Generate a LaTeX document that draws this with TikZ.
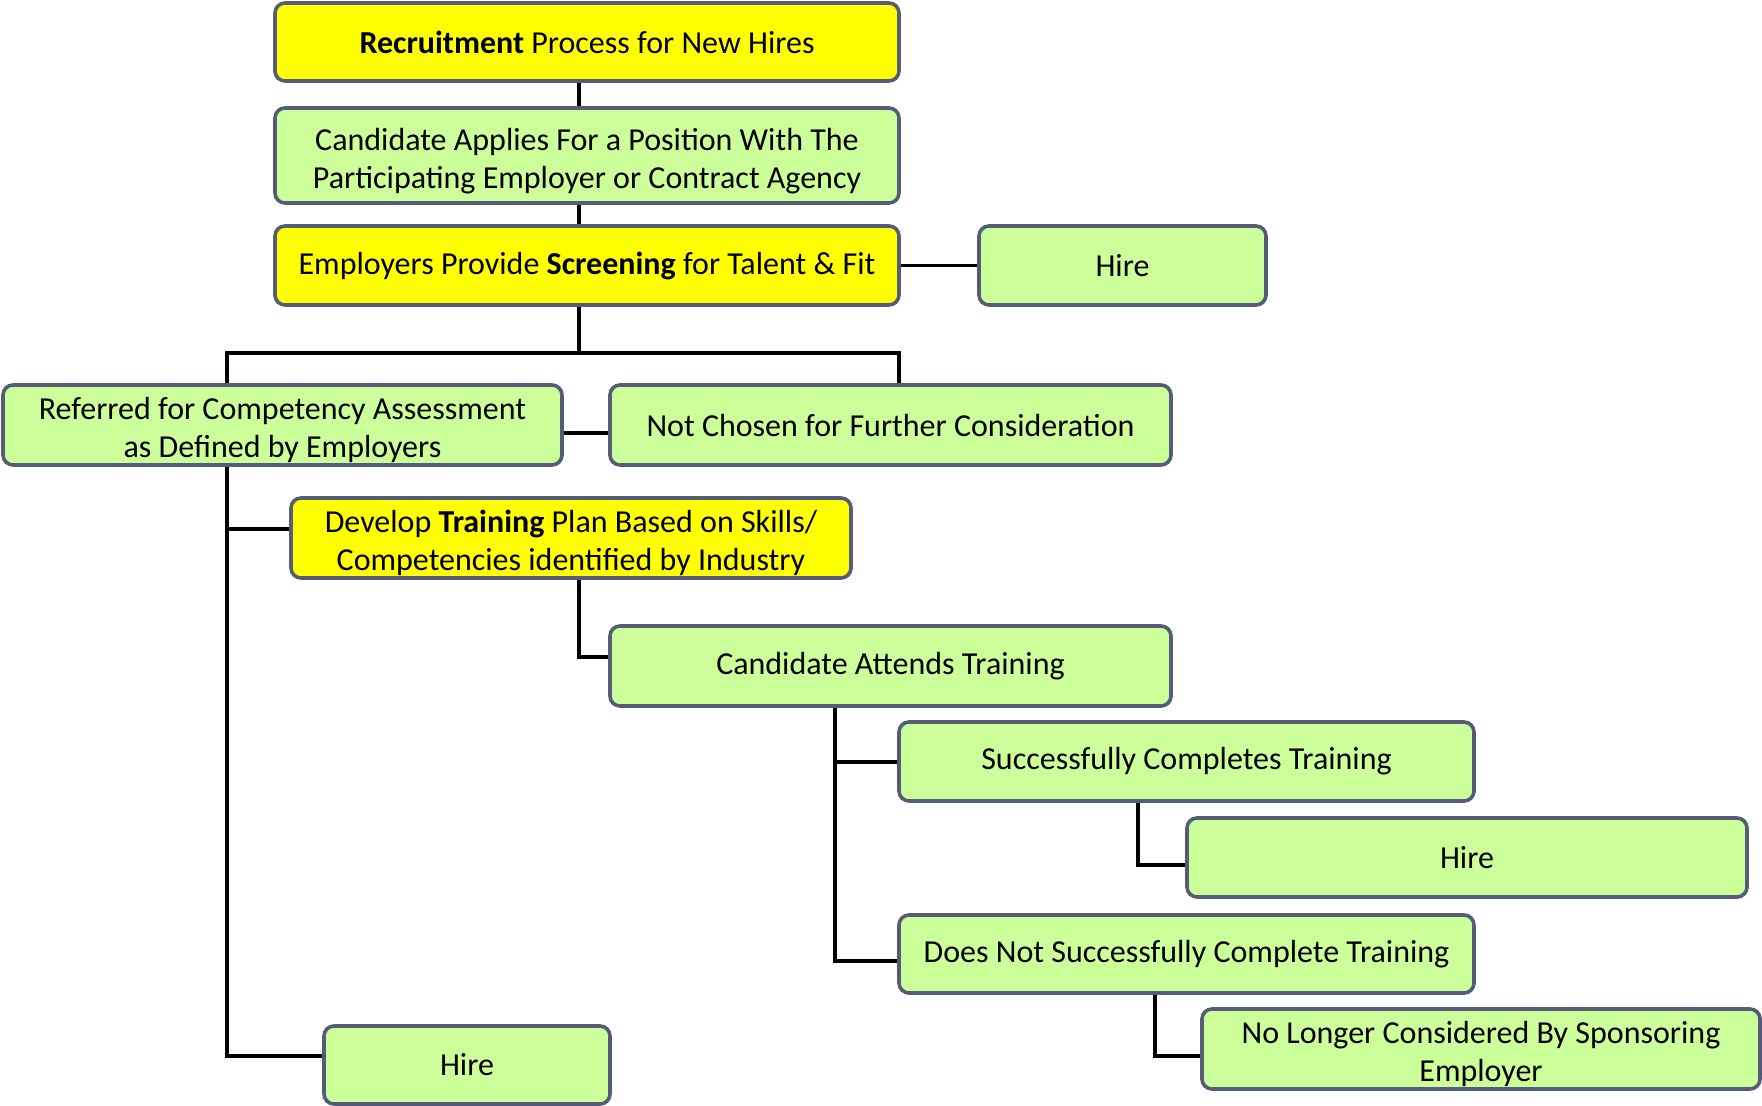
\documentclass[tikz,border=0pt]{standalone}
\usepackage{fontspec}
\setmainfont{Carlito}
\usepackage{tikz}
\usetikzlibrary{positioning}

\definecolor{boxgreen}{HTML}{CCFF99}
\definecolor{boxyellow}{HTML}{FFFF00}
\definecolor{boxedge}{HTML}{545C7A}

\newcommand{\lift}{\rule{0pt}{16.5pt}}

\begin{document}
\begin{tikzpicture}[x=0.5pt, y=-0.5pt]
		\tikzstyle{Box}  = [rectangle, rounded corners=5pt, draw=boxedge, line width=1.8pt, fill=boxgreen, align=center, inner xsep=2pt, inner ysep=0pt, font=\fontsize{16}{19}\selectfont]
		\tikzstyle{Key}  = [fill=boxyellow]
		\tikzstyle{Link} = [line width=1.8pt, black]

		\useasboundingbox (0,0) rectangle (1762,1105);

		% top column
		\node (rec)    at (587,42)    [Box][Key, minimum width=312pt, minimum height=39pt] {\textbf{Recruitment} Process for New Hires};
		\node (apply)  at (587,155.5) [Box][minimum width=312pt, minimum height=47.5pt] {\lift Candidate Applies For a Position With The\\Participating Employer or Contract Agency};
		\node (screen) at (587,265.5) [Box][Key, minimum width=312pt, minimum height=39.5pt] {Employers Provide \textbf{Screening} for Talent \& Fit};
		\node (hireA)  at (1122.5,265.5) [Box][minimum width=143.5pt, minimum height=39.5pt] {Hire};

		% after screening
		\node (refer)  at (282.5,425) [Box][minimum width=279.5pt, minimum height=40pt] {\lift Referred for Competency Assessment\\as Defined by Employers};
		\node (notch)  at (890.5,425) [Box][minimum width=280.5pt, minimum height=40pt] {Not Chosen for Further Consideration};
		\node (plan)   at (571,538)   [Box][Key, minimum width=280pt, minimum height=40pt] {\lift Develop \textbf{Training} Plan Based on Skills/\\Competencies identified by Industry};
		\node (attend) at (890.5,666) [Box][minimum width=280.5pt, minimum height=40pt] {Candidate Attends Training};
		\node (succ)   at (1186.5,761.5) [Box][minimum width=287.5pt, minimum height=39.5pt] {Successfully Completes Training};
		\node (hireB)  at (1467,857.5) [Box][minimum width=280pt, minimum height=39.5pt] {Hire};
		\node (fail)   at (1186.5,954) [Box][minimum width=287.5pt, minimum height=39pt] {Does Not Successfully Complete Training};
		\node (nolong) at (1481,1049) [Box][minimum width=279pt, minimum height=40pt] {\lift No Longer Considered By Sponsoring\\Employer};
		\node (hireC)  at (467,1065)  [Box][minimum width=143pt, minimum height=39pt] {Hire};

		% where the links run
		\coordinate (mid)    at (579,353);
		\coordinate (lft)    at (227,0);
		\coordinate (rgt)    at (899,0);
		\coordinate (attx)   at (835,0);
		\coordinate (referY) at (0,433);
		\coordinate (planY)  at (0,529);
		\coordinate (attY)   at (0,657);
		\coordinate (succY)  at (0,762);
		\coordinate (hireBY) at (0,865);
		\coordinate (failY)  at (0,961);
		\coordinate (lowY)   at (0,1056);
		\coordinate (succx)  at (1138,0);
		\coordinate (failx)  at (1155,0);

		\draw [Link] (rec.south -| mid) -- (apply.north -| mid);
		\draw [Link] (apply.south -| mid) -- (screen.north -| mid);
		\draw [Link] (screen) -- (hireA);
		\draw [Link] (screen.south -| mid) -- (mid);
		\draw [Link] (refer.north -| lft) |- (mid) -| (notch.north -| rgt);
		\draw [Link] (refer.east |- referY) -- (notch.west |- referY);

		\draw [Link] (refer.south -| lft) |- (hireC.west |- lowY);
		\draw [Link] (lft |- planY) -- (plan.west |- planY);
		\draw [Link] (plan.south -| mid) |- (attend.west |- attY);

		\draw [Link] (attend.south -| attx) |- (fail.west |- failY);
		\draw [Link] (attx |- succY) -- (succ.west |- succY);
		\draw [Link] (succ.south -| succx) |- (hireB.west |- hireBY);
		\draw [Link] (fail.south -| failx) |- (nolong.west |- lowY);
	\end{tikzpicture}
\end{document}
